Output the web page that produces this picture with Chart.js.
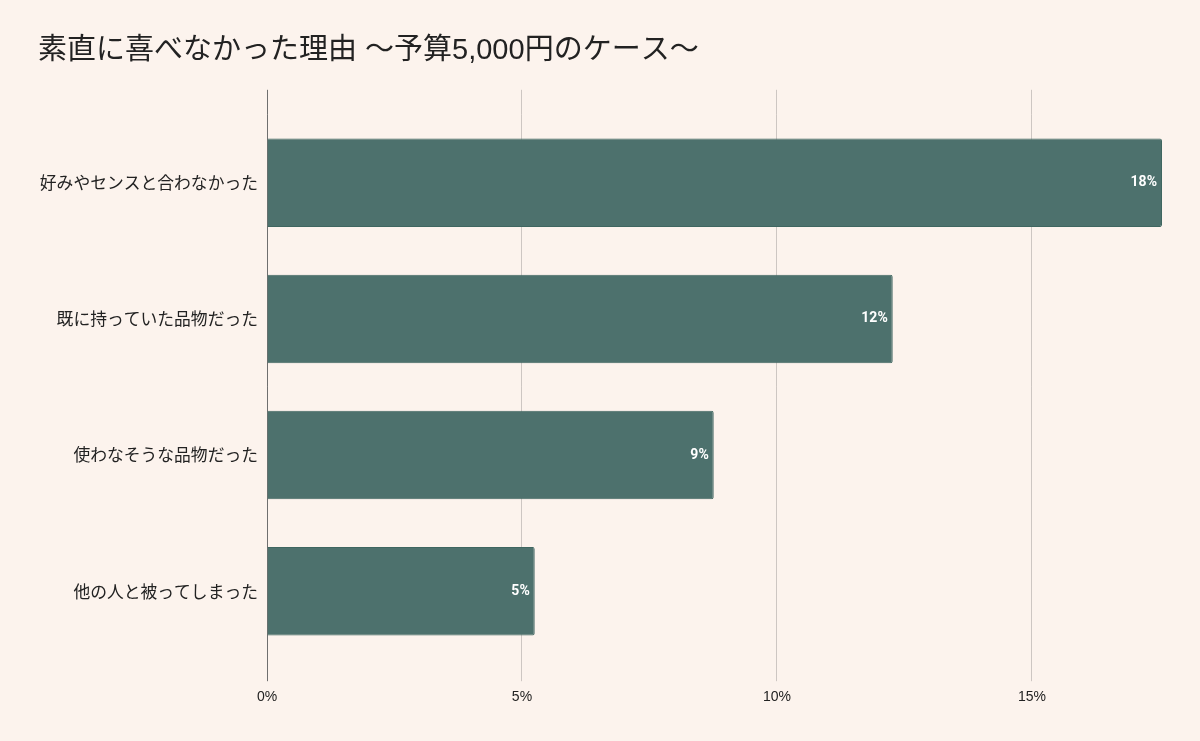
<!DOCTYPE html>
<html><head><meta charset="utf-8">
<script src="https://cdn.jsdelivr.net/npm/chart.js@4"></script>
<style>
html,body{margin:0;padding:0;background:#fcf3ed;}
#wrap{width:1200px;height:741px;position:relative;}
</style></head>
<body><div id="wrap"><canvas id="c" width="1200" height="741"></canvas></div>
<script>
const titleText = '素直に喜べなかった理由 ～予算5,000円のケース～';
const categories = ['好みやセンスと合わなかった','既に持っていた品物だった','使わなそうな品物だった','他の人と被ってしまった'];
const values = [17.55, 12.27, 8.76, 5.25];
const xTicks = [0, 5, 10, 15];

const FONT = "Roboto, 'Noto Sans CJK JP', sans-serif";
const LAT = "'Liberation Sans', 'Noto Sans CJK JP', sans-serif";
const JP = "'Noto Sans CJK JP', sans-serif";

const bgPlugin = {
  id:'bg',
  beforeDraw(chart){
    const {ctx,width,height}=chart;
    ctx.save();ctx.fillStyle='#fcf3ed';ctx.fillRect(0,0,width,height);ctx.restore();
  }
};
const gridExt = {
  id:'gridExt',
  beforeDatasetsDraw(chart){
    const {ctx,chartArea}=chart;
    const xs=chart.scales.x;
    ctx.save();
    xs.ticks.forEach(t=>{
      const x=Math.round(xs.getPixelForValue(t.value)-0.5)+0.5;
      ctx.strokeStyle = t.value===0 ? '#6f6f6f' : '#cdc6c2';
      ctx.lineWidth=1;
      ctx.beginPath();ctx.moveTo(x,chartArea.top-25);ctx.lineTo(x,chartArea.top);ctx.stroke();
    });
    ctx.restore();
  }
};
const valueLabels = {
  id:'valueLabels',
  afterDatasetsDraw(chart){
    const {ctx}=chart;
    const meta=chart.getDatasetMeta(0);
    ctx.save();
    ctx.fillStyle='#ffffff';
    ctx.font="bold 14px "+FONT;
    ctx.textAlign='right';ctx.textBaseline='middle';
    meta.data.forEach((bar,i)=>{
      ctx.fillText(Math.round(values[i])+'%', bar.x-5, bar.y);
    });
    ctx.restore();
  }
};

new Chart(document.getElementById('c'),{
  type:'bar',
  data:{labels:categories,datasets:[{
    data:values,
    backgroundColor:'#4d716d',
    borderColor:'#3f6660',
    borderWidth:1,
    borderRadius:2,
    borderSkipped:'start',
    barPercentage:0.65,
    categoryPercentage:1
  }]},
  options:{
    indexAxis:'y',
    responsive:false,
    animation:false,
    layout:{padding:{left:38,right:38,top:0,bottom:27}},
    plugins:{
      legend:{display:false},
      tooltip:{enabled:false},
      title:{display:true,text:titleText,align:'start',color:'#222222',
        font:{family:LAT,size:29,weight:'normal',lineHeight:1.2},
        padding:{top:34,bottom:46}}
    },
    scales:{
      x:{
        min:0,max:17.55,
        afterBuildTicks(s){s.ticks=xTicks.map(v=>({value:v}));},
        grid:{color:(c)=>c.tick && c.tick.value===0?'#6f6f6f':'#cdc6c2',tickLength:22,drawTicks:true,
          tickColor:(c)=>c.tick && c.tick.value===0?'#6f6f6f':'#cdc6c2'},
        border:{display:false},
        ticks:{callback:(v)=>v+'%',color:'#222222',font:{family:LAT,size:14},padding:8,maxRotation:0}
      },
      y:{
        grid:{display:false,drawTicks:false},
        border:{display:false},
        afterFit(s){s.width=229;},
        ticks:{color:'#222222',font:{family:JP,size:16.8},padding:9}
      }
    }
  },
  plugins:[bgPlugin,gridExt,valueLabels]
});
</script></body></html>
